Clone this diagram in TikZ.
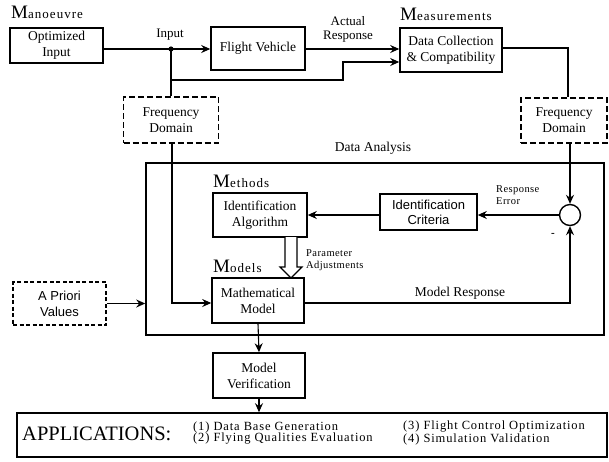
\documentclass[tikz,border=0pt]{standalone}
\usepackage{fontspec}
\setmainfont{Liberation Serif}
\setsansfont{Liberation Sans}
\usetikzlibrary{arrows.meta}
\begin{document}
\begin{tikzpicture}[x=1pt,y=-1pt,
  txt/.style={font=\rmfamily\fontsize{13.5}{16}\selectfont, align=center, inner sep=0pt},
  sbox/.style={txt, draw, line width=1.6pt, inner sep=0pt},
  dbox/.style={sbox, dash pattern=on 6pt off 3pt},
  conn/.style={line width=1.1pt},
  arr/.style={conn, -{Stealth[length=9pt,width=8pt,inset=3pt]}},
  head/.style={font=\rmfamily\fontsize{13}{14}\selectfont\addfontfeature{LetterSpace=8}, inner sep=0pt, anchor=base west},
  lbl/.style={font=\rmfamily\fontsize{13}{14}\selectfont, inner sep=0pt, align=left},
  slbl/.style={font=\rmfamily\fontsize{10.5}{12}\selectfont\addfontfeature{LetterSpace=4}, inner sep=0pt, align=left},
  item/.style={font=\rmfamily\fontsize{12.5}{12}\selectfont\addfontfeature{LetterSpace=7}, inner sep=0pt, anchor=west}
]
\useasboundingbox (0,0) rectangle (609,461);
% big data analysis box
\node[draw, line width=1.6pt, minimum width=458pt, minimum height=172pt, inner sep=0pt] (da) at (375,249) {};
% boxes
\node[sbox, minimum width=93pt, minimum height=35pt] (opt) at (56.5,45.5) {Optimized\\Input};
\node[sbox, minimum width=94pt, minimum height=43pt] (fv) at (258,48.5) {Flight Vehicle};
\node[sbox, minimum width=102pt, minimum height=44pt] (dc) at (451,50) {Data Collection\\\& Compatibility};
\node[dbox, minimum width=95pt, minimum height=46pt] (fd1) at (171,120) {Frequency\\Domain};
\node[dbox, minimum width=86pt, minimum height=45pt] (fd2) at (564,120.5) {Frequency\\Domain};
\node[sbox, minimum width=94pt, minimum height=44pt] (ia) at (260,215) {Identification\\Algorithm};
\node[sbox, font=\sffamily\fontsize{13}{15}\selectfont, minimum width=97pt, minimum height=36pt] (ic) at (428.5,212) {Identification\\Criteria};
\node[draw, circle, line width=1.4pt, minimum size=21pt, inner sep=0pt] (circ) at (570,215) {};
\node[sbox, minimum width=92pt, minimum height=45pt] (mm) at (258,300.5) {Mathematical\\Model};
\node[dbox, font=\sffamily\fontsize{13}{16}\selectfont, dash pattern=on 4pt off 2.5pt, minimum width=93pt, minimum height=43pt] (apv) at (59.5,303.5) {A Priori\\Values};
\node[sbox, minimum width=92pt, minimum height=45pt] (mv) at (259,375.5) {Model\\Verification};
\node[draw, line width=1.6pt, minimum width=590pt, minimum height=44pt, inner sep=0pt] (apps) at (312,435) {};
% headings
\node[head] (hman) at (11,18) {{\fontsize{19}{19}\selectfont M}anoeuvre};
\node[head] (hmea) at (400,20) {{\fontsize{19}{19}\selectfont M}easurements};
\node[head] (hmet) at (213,187) {{\fontsize{19}{19}\selectfont M}ethods};
\node[head] (hmod) at (213,272) {{\fontsize{19}{19}\selectfont M}odels};
% labels
\node[lbl] (linput) at (170,35) {Input};
\node[lbl, align=center] (lact) at (348,29) {Actual\\Response};
\node[txt] (lda) at (373,148) {Data Analysis};
\node[slbl, anchor=west] (lre) at (496,195) {Response\\Error};
\node[slbl, anchor=west] (lpa) at (306,260) {Parameter\\Adjustments};
\node[txt] (lmr) at (460,293) {Model Response};
\node[inner sep=0pt, font=\bfseries\fontsize{11}{11}\selectfont] (minus) at (553,235) {-};
% applications
\node[inner sep=0pt, anchor=west, font=\rmfamily\fontsize{20.5}{22}\selectfont] (appt) at (22,434) {APPLICATIONS:};
\node[item] (a1) at (193,427) {(1) Data Base Generation};
\node[item] (a2) at (193,439) {(2) Flying Qualities Evaluation};
\node[item] (a3) at (403,427) {(3) Flight Control Optimization};
\node[item] (a4) at (403,439) {(4) Simulation Validation};
% junction
\coordinate (dot) at (171,49);
\fill (dot) circle (2.6pt);
\coordinate (k1) at (343,80);
\coordinate (k2) at (343,62);
\coordinate (c2) at (568,48);
\coordinate (c3) at (172,303);
\coordinate (c4) at (570,303);
% connectors
\draw[conn] (opt.east |- dot) -- (dot);
\draw[arr] (dot) -- (dot -| fv.west);
\draw[conn] (dot) -- (fd1.north);
\draw[arr] (dot |- k1) -- (k1) -- (k2) -- (k2 -| dc.west);
\draw[arr] (fv.east |- dot) -- (dot -| dc.west);
\draw[conn] (dc.east |- c2) -- (c2) -- (c2 |- fd2.north);
\draw[arr] (fd2.south -| circ) -- (circ.north);
\draw[arr] (c3 |- fd1.south) -- (c3) -- (c3 -| mm.west);
\draw[arr] (apv.east) -- (apv.east -| da.west);
\draw[arr] (circ.west) -- (circ.west -| ic.east);
\draw[arr] (ic.west |- circ) -- (circ -| ia.east);
\draw[arr] (mm.east |- c4) -- (c4) -- (circ.south);
\draw[arr] (mm.south) -- (mv.north);
\draw[arr] (mv.south) -- (mv.south |- apps.north);
% fat arrow
\draw[line width=1.2pt, fill=white, line join=miter] (285,237) -- (285,267) -- (280,267) -- (291,278) -- (302,267) -- (297,267) -- (297,237);
\end{tikzpicture}
\end{document}
